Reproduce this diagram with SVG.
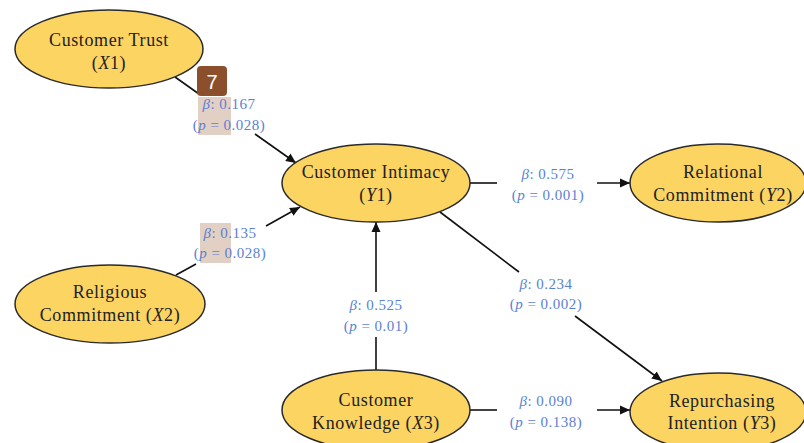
<svg xmlns="http://www.w3.org/2000/svg" width="804" height="443" viewBox="0 0 804 443">
<defs>
<marker id="arr" viewBox="0 0 10 10" refX="10" refY="5" markerWidth="10" markerHeight="10" markerUnits="userSpaceOnUse" orient="auto">
<path d="M0,0.5 L10,5 L0,9.5 Z" fill="#111"/>
</marker>
<style>
.node ellipse{fill:#fcd462;stroke:#2a2a2a;stroke-width:1.5}
.nt{font-family:"Liberation Serif","Times New Roman",serif;font-size:18px;letter-spacing:0.6px;fill:#222;text-anchor:middle}
.lb{font-family:"Liberation Serif","Times New Roman",serif;font-size:15px;letter-spacing:0.5px;fill:#5b7fd4;text-anchor:middle}
.edge{stroke:#111;stroke-width:1.6;fill:none}
.hl{fill:#d9c0b0;opacity:0.75}
</style>
</defs>
<rect width="804" height="443" fill="#fff"/>
<g id="highlights">
<rect class="hl" x="198" y="97" width="33" height="38"/>
<rect class="hl" x="200" y="223" width="31" height="40"/>
</g>
<g id="connectors">
<line class="edge" x1="175" y1="77" x2="199" y2="94"/>
<line class="edge" x1="255" y1="134" x2="296" y2="163" marker-end="url(#arr)"/>
<line class="edge" x1="176" y1="275" x2="196" y2="264"/>
<line class="edge" x1="266" y1="226" x2="300" y2="207" marker-end="url(#arr)"/>
<line class="edge" x1="470" y1="183" x2="497" y2="183"/>
<line class="edge" x1="597" y1="183" x2="630" y2="183" marker-end="url(#arr)"/>
<line class="edge" x1="440" y1="212" x2="519" y2="272"/>
<line class="edge" x1="575" y1="316" x2="662" y2="381" marker-end="url(#arr)"/>
<line class="edge" x1="376" y1="370" x2="376" y2="337"/>
<line class="edge" x1="376" y1="292" x2="376" y2="222" marker-end="url(#arr)"/>
<line class="edge" x1="470" y1="410" x2="497" y2="410"/>
<line class="edge" x1="597" y1="410" x2="630" y2="410" marker-end="url(#arr)"/>
</g>
<g id="labels">
<text class="lb" x="229" y="109"><tspan font-style="italic">β</tspan>: 0.167</text>
<text class="lb" x="229" y="130">(<tspan font-style="italic">p</tspan> = 0.028)</text>
<text class="lb" x="230" y="238"><tspan font-style="italic">β</tspan>: 0.135</text>
<text class="lb" x="230" y="258">(<tspan font-style="italic">p</tspan> = 0.028)</text>
<text class="lb" x="548" y="179"><tspan font-style="italic">β</tspan>: 0.575</text>
<text class="lb" x="548" y="200">(<tspan font-style="italic">p</tspan> = 0.001)</text>
<text class="lb" x="546" y="289"><tspan font-style="italic">β</tspan>: 0.234</text>
<text class="lb" x="546" y="309">(<tspan font-style="italic">p</tspan> = 0.002)</text>
<text class="lb" x="376" y="310"><tspan font-style="italic">β</tspan>: 0.525</text>
<text class="lb" x="376" y="331">(<tspan font-style="italic">p</tspan> = 0.01)</text>
<text class="lb" x="546" y="406"><tspan font-style="italic">β</tspan>: 0.090</text>
<text class="lb" x="546" y="427">(<tspan font-style="italic">p</tspan> = 0.138)</text>
</g>
<g id="badge">
<rect x="197" y="66" width="30" height="30" rx="4" fill="#8c4f2c"/>
<text x="212" y="89" font-family="Liberation Sans,Arial,sans-serif" font-size="20" fill="#fff" text-anchor="middle">7</text>
</g>
<g id="customer-trust" class="node">
<ellipse cx="109" cy="49" rx="94" ry="39"/>
<text class="nt" x="109" y="46">Customer Trust</text>
<text class="nt" x="109" y="69">(<tspan font-style="italic">X</tspan>1)</text>
</g>
<g id="religious-commitment" class="node">
<ellipse cx="110" cy="304" rx="95" ry="39"/>
<text class="nt" x="110" y="298">Religious</text>
<text class="nt" x="110" y="321">Commitment (<tspan font-style="italic">X</tspan>2)</text>
</g>
<g id="customer-intimacy" class="node">
<ellipse cx="376" cy="183" rx="94" ry="39"/>
<text class="nt" x="376" y="178">Customer Intimacy</text>
<text class="nt" x="376" y="201">(<tspan font-style="italic">Y</tspan>1)</text>
</g>
<g id="relational-commitment" class="node">
<ellipse cx="718" cy="183" rx="88" ry="39"/>
<text class="nt" x="723" y="178">Relational</text>
<text class="nt" x="723" y="201">Commitment (<tspan font-style="italic">Y</tspan>2)</text>
</g>
<g id="customer-knowledge" class="node">
<ellipse cx="376" cy="410" rx="94" ry="40"/>
<text class="nt" x="376" y="406">Customer</text>
<text class="nt" x="376" y="429">Knowledge (<tspan font-style="italic">X</tspan>3)</text>
</g>
<g id="repurchasing-intention" class="node">
<ellipse cx="718" cy="412" rx="88" ry="39"/>
<text class="nt" x="722" y="407">Repurchasing</text>
<text class="nt" x="722" y="429">Intention (<tspan font-style="italic">Y</tspan>3)</text>
</g>
</svg>
